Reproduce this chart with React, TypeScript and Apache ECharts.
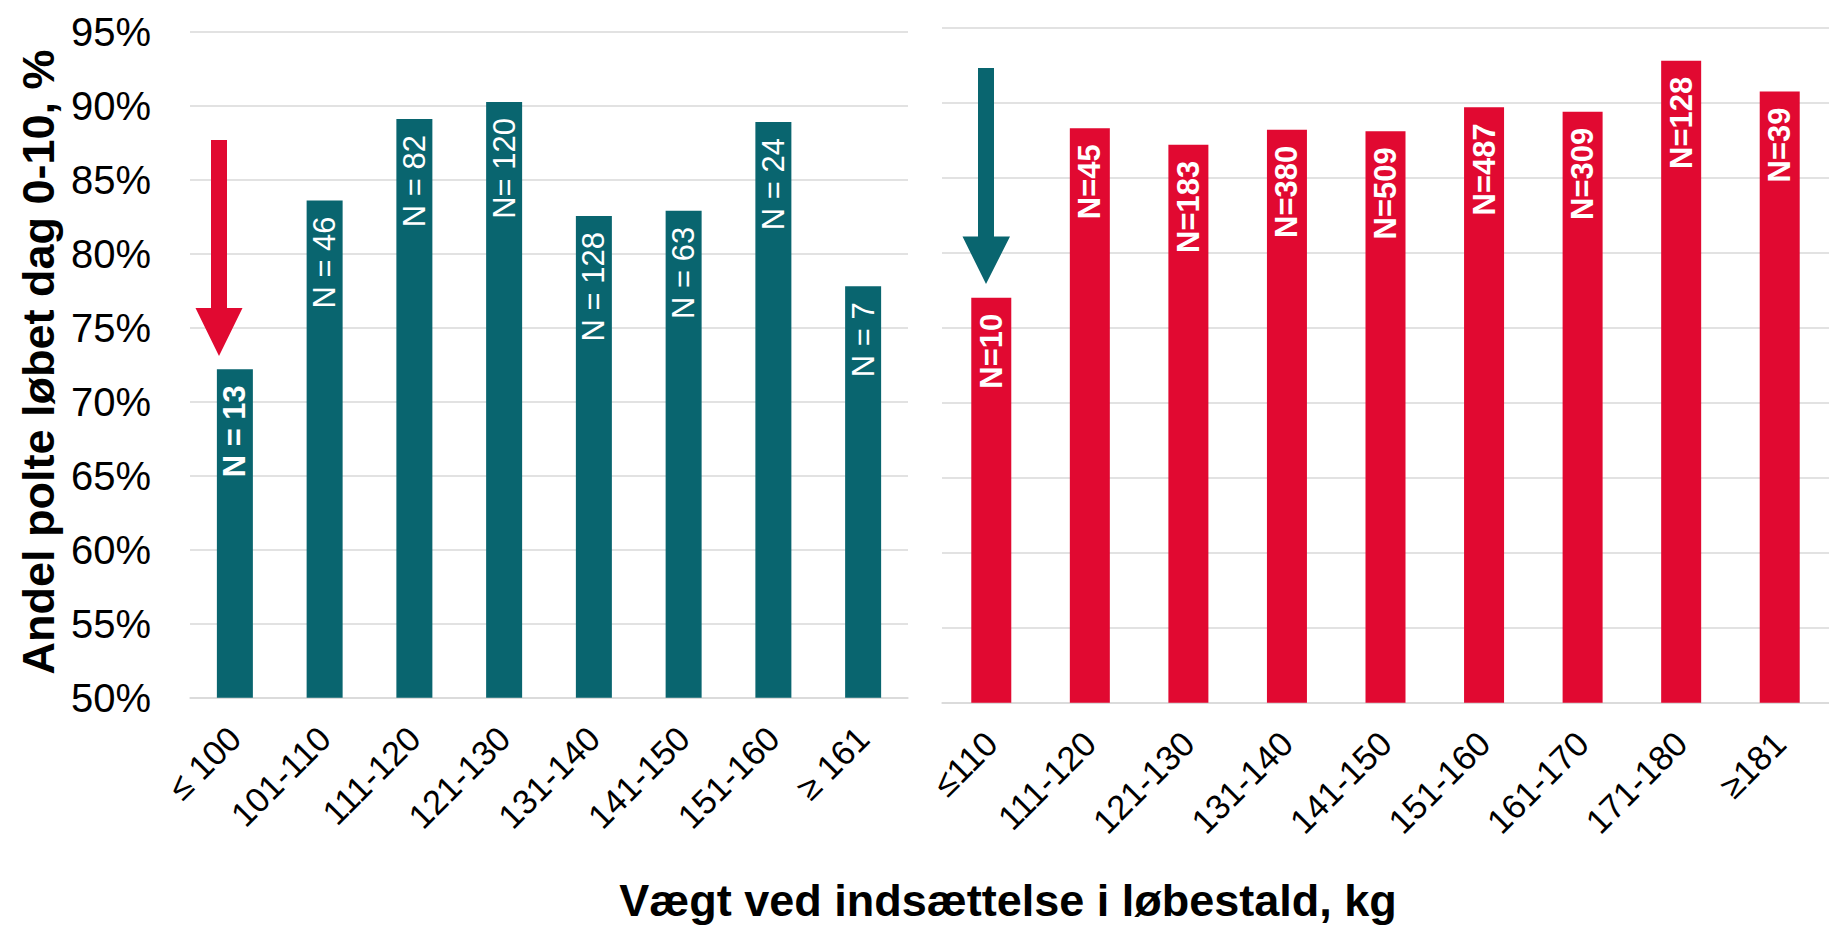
import React, { useEffect, useRef } from "react";
import * as echarts from "echarts";

const leftCategories = ["≤ 100", "101-110", "111-120", "121-130", "131-140", "141-150", "151-160", "≥ 161"];
const leftValues = [72.2, 83.6, 89.1, 90.25, 82.55, 82.9, 88.9, 77.8];
const leftN = ["N = 13", "N = 46", "N = 82", "N= 120", "N = 128", "N = 63", "N = 24", "N = 7"];
const leftBoldIdx = [0];

const rightCategories = ["≤110", "111-120", "121-130", "131-140", "141-150", "151-160", "161-170", "171-180", "≥181"];
const rightValues = [77.0, 88.3, 87.2, 88.2, 88.1, 89.7, 89.4, 92.8, 90.75];
const rightN = ["N=10", "N=45", "N=183", "N=380", "N=509", "N=487", "N=309", "N=128", "N=39"];

const yMin = 50;
const yMax = 95;
const yStep = 5;

const yTitle = "Andel polte løbet dag 0-10, %";
const xTitle = "Vægt ved indsættelse i løbestald, kg";

const TEAL = "#09656F";
const RED = "#E10931";
const GRID = "#D9D9D9";
const FONT = "'Liberation Sans', Arial, sans-serif";

export default function App() {
  const ref = useRef<HTMLDivElement>(null);
  useEffect(() => {
    if (!ref.current) return;
    const chart = echarts.init(ref.current, null, { renderer: "svg" });
    const xLabel = {
      rotate: 45,
      fontSize: 34.5,
      color: "#000",
      fontFamily: FONT,
      margin: 35,
      interval: 0,
    };
    const barLabel = (bold: boolean) => ({
      show: true,
      position: "insideTop",
      distance: 16,
      rotate: 90,
      align: "right",
      verticalAlign: "middle",
      color: "#fff",
      fontSize: 31,
      fontFamily: FONT,
      fontWeight: bold ? "bold" : "normal",
    });
    chart.setOption({
      animation: false,
      backgroundColor: "#fff",
      grid: [
        { left: 190, width: 718, top: 31.7, height: 666 },
        { left: 942, width: 887, top: 27.7, height: 675 },
      ],
      xAxis: [
        {
          type: "category",
          gridIndex: 0,
          data: leftCategories,
          axisTick: { show: false },
          axisLine: { lineStyle: { color: GRID, width: 1.5 } },
          axisLabel: xLabel,
        },
        {
          type: "category",
          gridIndex: 1,
          data: rightCategories,
          axisTick: { show: false },
          axisLine: { lineStyle: { color: GRID, width: 1.5 } },
          axisLabel: xLabel,
        },
      ],
      yAxis: [
        {
          type: "value",
          gridIndex: 0,
          min: yMin,
          max: yMax,
          interval: yStep,
          axisLine: { show: false },
          axisTick: { show: false },
          splitLine: { lineStyle: { color: GRID, width: 1.5 } },
          axisLabel: {
            formatter: "{value}%",
            fontSize: 40,
            color: "#000",
            fontFamily: FONT,
            margin: 39,
          },
        },
        {
          type: "value",
          gridIndex: 1,
          min: yMin,
          max: yMax,
          interval: yStep,
          axisLine: { show: false },
          axisTick: { show: false },
          splitLine: { lineStyle: { color: GRID, width: 1.5 } },
          axisLabel: { show: false },
        },
      ],
      series: [
        {
          type: "bar",
          xAxisIndex: 0,
          yAxisIndex: 0,
          barWidth: 36,
          itemStyle: { color: TEAL },
          data: leftValues.map((v, i) => ({
            value: v,
            label: { ...barLabel(leftBoldIdx.includes(i)), formatter: leftN[i] },
          })),
        },
        {
          type: "bar",
          xAxisIndex: 1,
          yAxisIndex: 1,
          barWidth: 40,
          itemStyle: { color: RED },
          data: rightValues.map((v, i) => ({
            value: v,
            label: { ...barLabel(true), formatter: rightN[i] },
          })),
        },
      ],
      graphic: [
        {
          type: "polygon",
          z: 100,
          shape: {
            points: [
              [211, 140], [227, 140], [227, 308], [242.5, 308], [219, 356], [195.5, 308], [211, 308],
            ],
          },
          style: { fill: RED },
        },
        {
          type: "polygon",
          z: 100,
          shape: {
            points: [
              [978, 68], [994, 68], [994, 236.5], [1010, 236.5], [986, 284], [962.5, 236.5], [978, 236.5],
            ],
          },
          style: { fill: TEAL },
        },
        {
          type: "text",
          z: 100,
          x: 38,
          y: 362,
          rotation: Math.PI / 2,
          style: {
            text: yTitle,
            fontSize: 45,
            fontWeight: "bold",
            fontFamily: FONT,
            fill: "#000",
            align: "center",
            verticalAlign: "middle",
          },
        },
        {
          type: "text",
          z: 100,
          x: 1008,
          y: 900,
          style: {
            text: xTitle,
            fontSize: 45,
            fontWeight: "bold",
            fontFamily: FONT,
            fill: "#000",
            align: "center",
            verticalAlign: "middle",
          },
        },
      ],
    });
    return () => chart.dispose();
  }, []);
  return (
    <div
      ref={ref}
      style={{ position: "absolute", left: 0, top: 0, width: 1829, height: 925 }}
    />
  );
}
